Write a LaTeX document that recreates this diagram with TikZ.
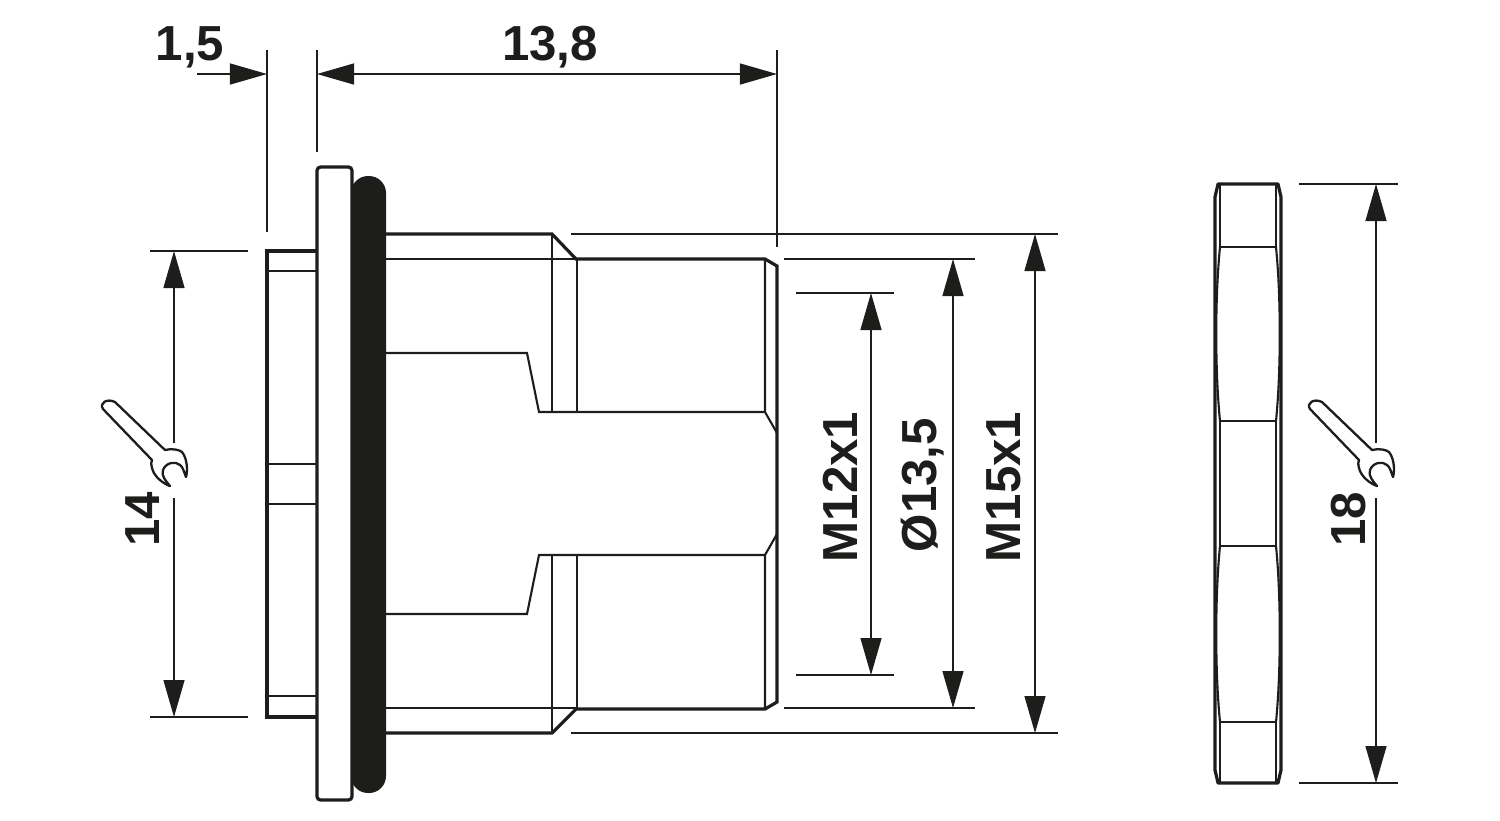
\documentclass[tikz,border=0pt]{standalone}
\usepackage{fontspec}
\setmainfont{Liberation Sans}
\usetikzlibrary{arrows.meta}
\definecolor{inkblack}{HTML}{1D1D1B}
\tikzset{
  thickline/.style={draw=inkblack, line width=0.032cm},
  thinline/.style={draw=inkblack, line width=0.021cm},
  dimline/.style={draw=inkblack, line width=0.013cm},
  dimarrow/.style={dimline, -{Triangle[length=0.37cm,width=0.21cm,fill=inkblack]}},
  dimlabel/.style={text=inkblack, font=\fontsize{14}{16}\selectfont\bfseries, inner sep=0pt},
  spanner/.pic={
    \draw[draw=inkblack, line width=0.023cm, line join=round, fill=white]
      (85,70) .. controls (92,68) and (100,70) .. (102,72)
      .. controls (107,78) and (108,90) .. (106,97)
      .. controls (104,92) and (103,87) .. (100,85)
      .. controls (96,81) and (86,82) .. (83,90)
      .. controls (81,96) and (86,101) .. (90,106)
      .. controls (84,104) and (74,97) .. (72,88)
      .. controls (71,84) and (71,82) .. (72,80)
      -- (23,29) .. controls (19,23) and (27,18) .. (35,22) -- cycle;
  }
}
\begin{document}
\begin{tikzpicture}[x=0.01cm,y=-0.01cm]
  \useasboundingbox (0,0) rectangle (1500,820);

  % Rear part with the spanner flats
  \draw[thickline] (317,251) -- (267,251) -- (267,717) -- (317,717);
  \draw[thinline] (267,271) -- (317,271);
  \draw[thinline] (267,464) -- (317,464);
  \draw[thinline] (267,504) -- (317,504);
  \draw[thinline] (267,696) -- (317,696);

  % Flange and sealing ring
  \draw[thickline, rounded corners=1pt] (317,167) rectangle (352,800);
  \fill[inkblack, rounded corners=0.17cm] (351,176) rectangle (386,793);
  \fill[inkblack] (351,234) rectangle (386,734);

  % Threaded body
  \draw[thickline] (386,234) -- (552,234) -- (576,259) -- (765,259) -- (777,266) -- (777,702) -- (765,709) -- (576,709) -- (552,733) -- (386,733);
  \draw[thinline] (386,259) -- (576,259);
  \draw[thinline] (386,708) -- (576,708);
  \draw[thinline] (552,234) -- (552,412);
  \draw[thinline] (577,259) -- (577,412);
  \draw[thinline] (552,555) -- (552,733);
  \draw[thinline] (577,555) -- (577,708);
  \draw[thinline] (765,259) -- (765,412) -- (777,433);
  \draw[thinline] (765,709) -- (765,555) -- (777,534);

  % Slot
  \draw[thinline] (386,353) -- (527,353) -- (539,412) -- (765,412);
  \draw[thinline] (386,614) -- (527,614) -- (539,555) -- (765,555);

  % Hexagon nut
  \draw[thickline, line join=round] (1215,197) -- (1218,184) -- (1278,184) -- (1281,197) -- (1281,770) -- (1278,783) -- (1218,783) -- (1215,770) -- cycle;
  \draw[thinline] (1220,184) -- (1220,247);
  \draw[thinline] (1276,184) -- (1276,247);
  \draw[thinline] (1220,722) -- (1220,783);
  \draw[thinline] (1276,722) -- (1276,783);
  \draw[thinline] (1220,421) -- (1220,546);
  \draw[thinline] (1276,421) -- (1276,546);
  \foreach \ytop/\ybot in {247/421,546/722} {
    \draw[thinline] (1220,\ytop) -- (1276,\ytop);
    \draw[thinline] (1220,\ybot) -- (1276,\ybot);
    \draw[thinline] (1220,\ytop) .. controls (1215,{\ytop+50}) and (1215,{\ybot-50}) .. (1220,\ybot);
    \draw[thinline] (1276,\ytop) .. controls (1281,{\ytop+50}) and (1281,{\ybot-50}) .. (1276,\ybot);
  }

  % Extension lines
  \coordinate (ext15a) at (267,50);
  \coordinate (ext15b) at (267,232);
  \coordinate (ext138a) at (317,50);
  \coordinate (ext138b) at (317,152);
  \coordinate (extend) at (777,50);
  \coordinate (extendb) at (777,247);
  \draw[dimline] (ext15a) -- (ext15b);
  \draw[dimline] (ext138a) -- (ext138b);
  \draw[dimline] (extend) -- (extendb);
  \draw[dimline] (150,251) -- (248,251);
  \draw[dimline] (150,717) -- (248,717);
  \draw[dimline] (571,234) -- (1058,234);
  \draw[dimline] (571,733) -- (1058,733);
  \draw[dimline] (784,259) -- (975,259);
  \draw[dimline] (784,708) -- (975,708);
  \draw[dimline] (796,293) -- (894,293);
  \draw[dimline] (796,675) -- (894,675);
  \draw[dimline] (1299,184) -- (1398,184);
  \draw[dimline] (1299,783) -- (1398,783);

  % Horizontal dimensions
  \coordinate (a15) at (197,74);
  \coordinate (b15) at (267,74);
  \coordinate (a138) at (317,74);
  \coordinate (b138) at (777,74);
  \draw[dimarrow] (a15) -- (b15);
  \draw[dimarrow, {Triangle[length=0.37cm,width=0.21cm,fill=inkblack]}-{Triangle[length=0.37cm,width=0.21cm,fill=inkblack]}] (a138) -- (b138);
  \node[dimlabel] (lab15) at (190,47) {1,5};
  \node[dimlabel] (lab138) at (550,47) {13,8};

  % Vertical dimensions
  \foreach \xdim/\ytop/\ybot/\name in {871/293/675/m12,953/259/708/d135,1035/234/733/m15} {
    \coordinate (\name top) at (\xdim,\ytop);
    \coordinate (\name bot) at (\xdim,\ybot);
    \draw[dimarrow, {Triangle[length=0.37cm,width=0.21cm,fill=inkblack]}-{Triangle[length=0.37cm,width=0.21cm,fill=inkblack]}] (\name top) -- (\name bot);
  }
  \node[dimlabel, rotate=90] (labm12) at (840,487) {M12x1};
  \node[dimlabel, rotate=90] (labd135) at (923,485) {Ø13,5};
  \node[dimlabel, rotate=90] (labm15) at (1004,487) {M15x1};

  % Across flats, with spanner in the gap
  \foreach \xdim/\ytop/\ybot/\name in {174/251/717/sw14,1376/184/783/sw18} {
    \coordinate (\name top) at (\xdim,\ytop);
    \coordinate (\name gapa) at (\xdim,443);
    \coordinate (\name gapb) at (\xdim,498);
    \coordinate (\name bot) at (\xdim,\ybot);
    \draw[dimarrow] (\name gapa) -- (\name top);
    \draw[dimarrow] (\name gapb) -- (\name bot);
  }
  \pic at (80,380) {spanner};
  \pic at (1287,380) {spanner};
  \node[dimlabel, rotate=90] (lab14) at (143,519) {14};
  \node[dimlabel, rotate=90] (lab18) at (1349,519) {18};
\end{tikzpicture}
\end{document}
